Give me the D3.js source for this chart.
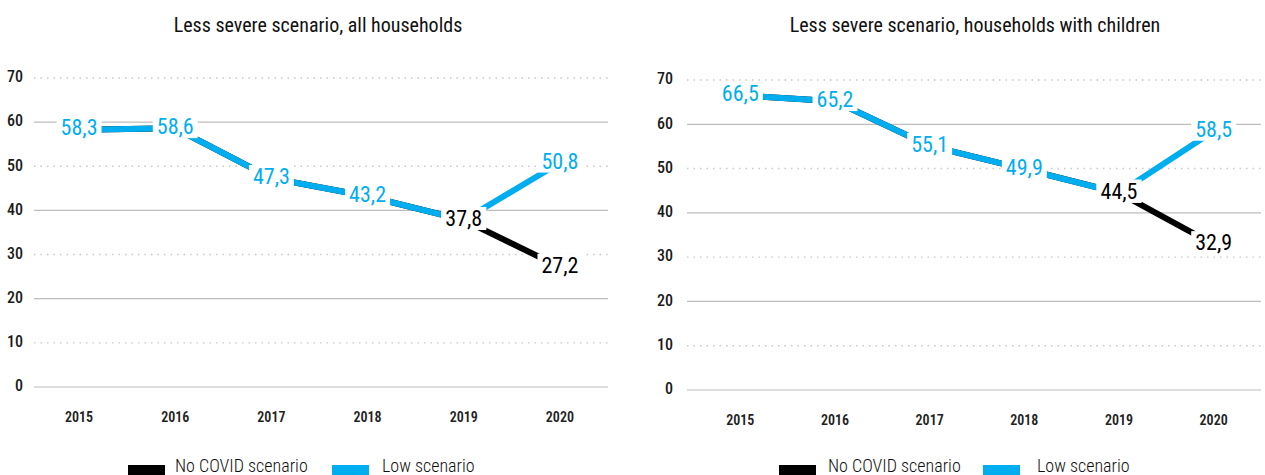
<!DOCTYPE html>
<html><head><meta charset="utf-8">
<script src="https://cdn.jsdelivr.net/npm/d3@7"></script>
<style>
html,body{margin:0;padding:0;background:#fff;overflow:hidden;}
text{font-family:"Roboto Condensed","Liberation Sans Narrow","DejaVu Sans Condensed","Arial Narrow",sans-serif;}
</style></head>
<body><svg id="c" width="1265" height="475"></svg>
<script>
const years = ["2015","2016","2017","2018","2019","2020"];
const yTicks = [0,10,20,30,40,50,60,70];
const titles = ["Less severe scenario, all households","Less severe scenario, households with children"];
const seriesNames = ["No COVID scenario","Low scenario"];
const allNoCovid = [58.3,58.6,47.3,43.2,37.8,27.2];
const allLow = [58.3,58.6,47.3,43.2,37.8,50.8];
const kidsNoCovid = [66.5,65.2,55.1,49.9,44.5,32.9];
const kidsLow = [66.5,65.2,55.1,49.9,44.5,58.5];
const colors = {black:"#000000", blue:"#00AEEF"};

const svg = d3.select("#c");
const fmt = v => d3.format(".1f")(v).replace(".",",");

function panel(cfg){
  const g = svg.append("g");
  const x = d3.scalePoint().domain(years).range([cfg.x0, cfg.x1]).padding(0.5);
  const y = d3.scaleLinear().domain([0,70]).range([cfg.yb, cfg.yt]);
  g.append("text").attr("x", cfg.tx).attr("y", 27).attr("text-anchor","middle")
    .attr("dominant-baseline","middle").attr("font-size",20).attr("fill","#111").text(cfg.title);
  yTicks.forEach(t=>{
    g.append("line").attr("x1",cfg.gx0).attr("x2",cfg.x1).attr("y1",y(t)).attr("y2",y(t))
      .attr("stroke", t%20===0 ? "#bdbdbd" : "#c8c8c8").attr("stroke-width", t%20===0?1.2:1.4)
      .attr("stroke-dasharray", t%20===0 ? null : "1.5,5");
    g.append("text").attr("x",cfg.lx).attr("y",y(t)).attr("text-anchor","end")
      .attr("dominant-baseline","middle").attr("font-size",16).attr("font-weight",500).attr("fill","#1a1a1a").text(t);
  });
  years.forEach(yr=>{
    g.append("text").attr("x",x(yr)).attr("y",cfg.yb+31).attr("text-anchor","middle")
      .attr("dominant-baseline","middle").attr("font-size",14).attr("font-weight",600).attr("fill","#222").text(yr);
  });
  const line = d3.line().x((d,i)=>x(years[i])).y(d=>y(d));
  g.append("path").datum(cfg.noCovid).attr("d",line).attr("fill","none").attr("stroke",colors.black).attr("stroke-width",6);
  g.append("path").datum(cfg.low).attr("d",line).attr("fill","none").attr("stroke",colors.blue).attr("stroke-width",6);
  function label(v,i,col){
    const lg = g.append("g");
    const t = lg.append("text").attr("x",x(years[i])).attr("y",y(v)).attr("text-anchor","middle")
      .attr("dominant-baseline","middle").attr("font-size",22).attr("fill",col).text(fmt(v));
    const b = t.node().getBBox();
    lg.insert("rect","text").attr("x",b.x-4).attr("y",b.y+1).attr("width",b.width+8).attr("height",b.height-2).attr("fill","#fff");
  }
  cfg.low.forEach((v,i)=>label(v,i,colors.blue));
  [4,5].forEach(i=>label(cfg.noCovid[i],i,colors.black));
  const leg = [[seriesNames[0],colors.black,cfg.lg[0]],[seriesNames[1],colors.blue,cfg.lg[1]]];
  leg.forEach(([n,c,pos])=>{
    g.append("rect").attr("x",pos[0]).attr("y",465).attr("width",37).attr("height",10).attr("fill",c);
    g.append("text").attr("x",pos[1]).attr("y",472).attr("font-size",18).attr("font-weight",300).attr("fill","#111").text(n);
  });
}
panel({x0:31,x1:608,gx0:34,yb:387,yt:78,lx:23,tx:318,title:titles[0],noCovid:allNoCovid,low:allLow,lg:[[128,175],[332,382]]});
panel({x0:693,x1:1261,gx0:687,yb:390,yt:80,lx:673,tx:975,title:titles[1],noCovid:kidsNoCovid,low:kidsLow,lg:[[779,828],[983,1037]]});
</script></body></html>
